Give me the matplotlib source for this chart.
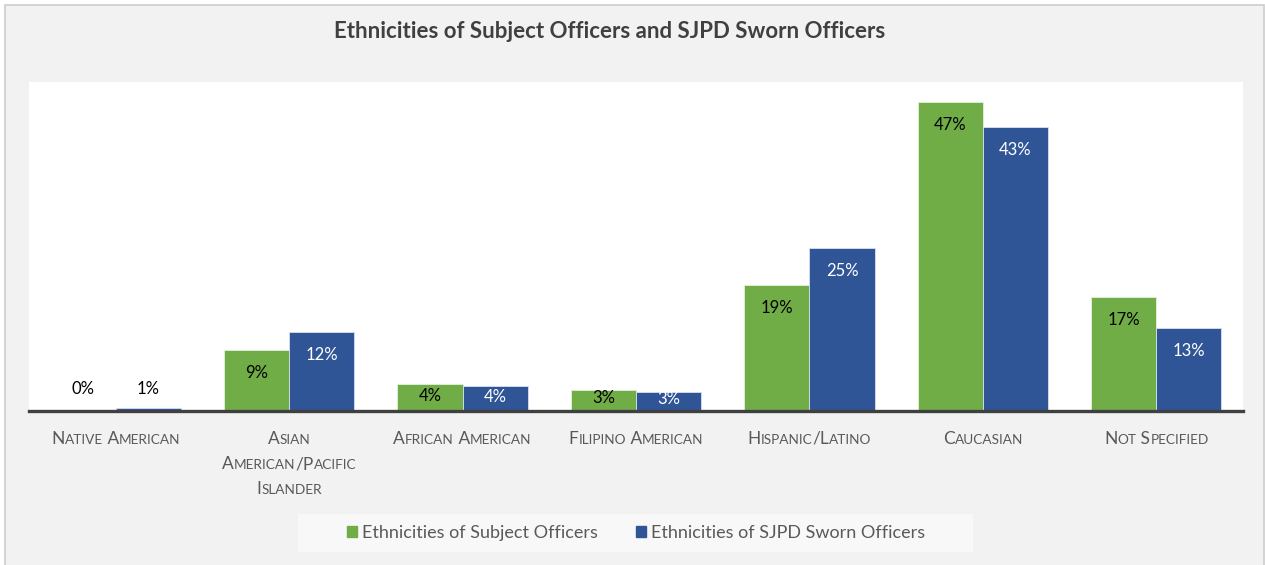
import matplotlib
matplotlib.use("Agg")
from matplotlib import pyplot as plt
from matplotlib.patches import Rectangle
import numpy as np

categories = [["Native American"],
              ["Asian", "American/Pacific", "Islander"],
              ["African American"],
              ["Filipino American"],
              ["Hispanic/Latino"],
              ["Caucasian"],
              ["Not Specified"]]
subject_vals = [0.0, 9.3, 4.1, 3.2, 19.1, 47.0, 17.3]
sworn_vals = [0.4, 12.0, 3.8, 2.9, 24.8, 43.2, 12.6]
subject_labels = ["0%", "9%", "4%", "3%", "19%", "47%", "17%"]
sworn_labels = ["1%", "12%", "4%", "3%", "25%", "43%", "13%"]
series_names = ["Ethnicities of Subject Officers", "Ethnicities of SJPD Sworn Officers"]
title = "Ethnicities of Subject Officers and SJPD Sworn Officers"

GREEN = "#70ad47"
BLUE = "#2f5597"
FONT = "Lato"

W, H = 1265, 565
fig = plt.figure(figsize=(W / 100, H / 100), dpi=100, facecolor="white")

# outer chart area with light border (only left/top visible)
fig.patches.append(Rectangle((5 / W, -0.05), (W - 6) / W, 1.05 - 5 / H, transform=fig.transFigure,
                             facecolor="#f2f2f2", edgecolor="#cccccc", linewidth=1.2, zorder=-2))

# plot area in pixel coords
left, right, top, base = 29, 1243, 82, 411
ax = fig.add_axes([left / W, (H - base) / H, (right - left) / W, (base - top) / H])
ax.set_zorder(1)
ax.set_facecolor("white")
ymax = 50
ax.set_ylim(0, ymax)
ax.set_xlim(-0.5, 6.5)
for s in ["top", "right", "left"]:
    ax.spines[s].set_visible(False)
ax.spines["bottom"].set_color("#404040")
ax.spines["bottom"].set_linewidth(2.4)
ax.set_xticks([])
ax.set_yticks([])

x = np.arange(len(categories))
w = 0.376
ax.bar(x - w / 2, subject_vals, w, color=GREEN, edgecolor="#e6f0de", linewidth=0.6, zorder=2)
ax.bar(x + w / 2, sworn_vals, w, color=BLUE, edgecolor="#d9e1f0", linewidth=0.6, zorder=2)

px = (base - top) / ymax  # pixels per unit


def place_label(xc, v, txt, inside_color):
    h = v * px
    if h >= 46:
        y, c = v - 23 / px, inside_color
    elif h >= 15:
        y, c = v / 2 + 0.3, inside_color
    else:
        y, c = 22 / px, "black"
    ax.text(xc, y, txt, ha="center", va="center", fontsize=12, color=c, family=FONT, zorder=3)


for i in range(len(categories)):
    place_label(x[i] - w / 2, subject_vals[i], subject_labels[i], "black")
    place_label(x[i] + w / 2, sworn_vals[i], sworn_labels[i], "white")

# title
fig.text(610 / W, 1 - 31 / H, title, ha="center", va="center", fontsize=16,
         fontweight="bold", color="#404040", family=FONT)

# small caps category labels
fig.canvas.draw()
renderer = fig.canvas.get_renderer()
BIG, SMALL = 12.5, 9.8
LABCOL = "#595959"


def smallcaps_line(xc_px, yc_px, line):
    runs = []
    for ch in line:
        size = SMALL if ch.islower() else BIG
        if runs and runs[-1][1] == size:
            runs[-1][0] += ch.upper()
        else:
            runs.append([ch.upper(), size])
    texts = []
    total = 0
    for s, size in runs:
        t = fig.text(0, 0, s, fontsize=size, color=LABCOL, family=FONT, ha="left",
                     va="baseline")
        bb = t.get_window_extent(renderer)
        texts.append((t, bb.width))
        total += bb.width
    xp = xc_px - total / 2
    for t, wd in texts:
        t.set_position((xp / W, 1 - (yc_px + 6) / H))
        xp += wd


cat_px = left + (x + 0.5) * (right - left) / len(categories)
for i, lines in enumerate(categories):
    for j, line in enumerate(lines):
        smallcaps_line(cat_px[i], 438 + j * 25, line)

# legend
fig.patches.append(Rectangle((298 / W, 1 - 552 / H), (973 - 298) / W, 38 / H,
                             transform=fig.transFigure, facecolor="#f8f8f8",
                             edgecolor="none", zorder=-1))
handles = [Rectangle((0, 0), 1, 1, color=GREEN), Rectangle((0, 0), 1, 1, color=BLUE)]
fig.legend(handles, series_names, loc="center", bbox_to_anchor=(636 / W, 1 - 533 / H),
           ncol=2, frameon=False, handlelength=0.55, handleheight=0.55, handletextpad=0.3,
           columnspacing=2.1, prop={"family": FONT, "size": 13}, labelcolor="#595959")

fig.savefig("out.png", dpi=100, facecolor=fig.get_facecolor())
